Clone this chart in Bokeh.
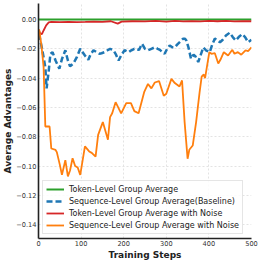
from bokeh.plotting import figure
from bokeh.models import Range1d, FixedTicker, CustomJSTickFormatter, Legend, LegendItem
from bokeh.embed import file_html
from bokeh.resources import INLINE

# ---- data ----
green_x = [0, 500]
green_y = [0.0, 0.0]

blue_x = [0, 2, 9, 16, 19, 24, 28, 33, 40, 49, 55, 63, 69, 74, 82, 90, 98, 109, 117, 122, 129, 135,
          143, 148, 155, 162, 168, 176, 182, 188, 195, 202, 212, 218, 225, 236, 243, 250, 257, 265,
          273, 280, 285, 290, 296, 302, 308, 314, 320, 326, 333, 339, 344, 347, 352, 358, 364, 368,
          375, 381, 387, 393, 402, 408, 414, 420, 426, 432, 440, 449, 456, 463, 470, 478, 485, 492, 500]
blue_y = [-0.012, -0.011, -0.021, -0.0325, -0.047, -0.035, -0.0234, -0.0223, -0.028, -0.0336, -0.027,
          -0.021, -0.028, -0.032, -0.030, -0.0257, -0.020, -0.0246, -0.0275, -0.024, -0.021, -0.022,
          -0.0234, -0.023, -0.0223, -0.021, -0.020, -0.021, -0.024, -0.028, -0.024, -0.021, -0.0223,
          -0.021, -0.020, -0.0207, -0.0166, -0.020, -0.021, -0.020, -0.019, -0.020, -0.0207, -0.022,
          -0.0234, -0.020, -0.0177, -0.019, -0.019, -0.017, -0.015, -0.0132, -0.0132, -0.0143, -0.019,
          -0.0268, -0.024, -0.025, -0.029, -0.024, -0.019, -0.021, -0.0223, -0.017, -0.013, -0.0145,
          -0.0155, -0.014, -0.011, -0.009, -0.012, -0.0143, -0.012, -0.010, -0.012, -0.0155, -0.0139]

red_x = [0, 4, 8, 12, 18, 24, 30, 50, 70, 90, 110, 130, 150, 170, 186, 195, 220, 250, 275, 300,
         320, 340, 360, 380, 400, 420, 440, 460, 480, 500]
red_y = [-0.007, -0.0095, -0.010, -0.0075, -0.004, -0.002, -0.0017, -0.0018, -0.0016, -0.0018,
         -0.0017, -0.0014, -0.0016, -0.0012, -0.0028, -0.0015, -0.0012, -0.0013, -0.0010, -0.0014,
         -0.0010, -0.0013, -0.0011, -0.0013, -0.0010, -0.0012, -0.0010, -0.0013, -0.0011, -0.0012]

orange_x = [0, 2, 7, 12, 16, 22, 26, 30, 40, 43, 50, 55, 63, 69, 74, 80, 86, 92, 98, 109, 119, 125,
            134, 140, 151, 163, 168, 173, 181, 194, 206, 217, 225, 235, 248, 257, 265, 273, 283, 294,
            300, 312, 320, 331, 337, 343, 350, 354, 362, 370, 374, 378, 383, 388, 391, 401, 406, 414,
            422, 427, 435, 445, 455, 460, 468, 476, 486, 492, 500]
orange_y = [-0.007, -0.0075, -0.018, -0.0325, -0.073, -0.073, -0.073, -0.088, -0.089, -0.0905,
            -0.099, -0.106, -0.096, -0.107, -0.103, -0.0946, -0.100, -0.101, -0.106, -0.0866, -0.090,
            -0.091, -0.0935, -0.0787, -0.070, -0.082, -0.0666, -0.064, -0.0564, -0.064, -0.057, -0.057,
            -0.0625, -0.064, -0.0496, -0.044, -0.047, -0.043, -0.042, -0.052, -0.0507, -0.0405, -0.0434,
            -0.0457, -0.0416, -0.070, -0.095, -0.0889, -0.086, -0.070, -0.060, -0.050, -0.039, -0.0375,
            -0.040, -0.0223, -0.0234, -0.023, -0.030, -0.0275, -0.0223, -0.0246, -0.0207, -0.0234,
            -0.0223, -0.024, -0.021, -0.0216, -0.019]

x_ticks = [0, 100, 200, 300, 400, 500]
y_ticks = [0.0, -0.02, -0.04, -0.06, -0.08, -0.10, -0.12, -0.14]

labels = ["Token-Level Group Average",
          "Sequence-Level Group Average(Baseline)",
          "Token-Level Group Average with Noise",
          "Sequence-Level Group Average with Noise"]

FONT = "DejaVu Sans"

p = figure(width=262, height=262, output_backend="svg", toolbar_location=None,
           x_range=Range1d(0, 500), y_range=Range1d(-0.1494, 0.0109),
           min_border_top=3, min_border_right=11, min_border_left=36, min_border_bottom=24)
p.outline_line_color = None
p.background_fill_color = "white"

# grid
for g in (p.xgrid, p.ygrid):
    g.grid_line_color = "#e3e3e3"
    g.grid_line_dash = "2 2"
    g.grid_line_width = 1
p.xgrid.ticker = FixedTicker(ticks=x_ticks)
p.ygrid.ticker = FixedTicker(ticks=y_ticks)

# axes
p.xaxis.ticker = FixedTicker(ticks=x_ticks)
p.yaxis.ticker = FixedTicker(ticks=y_ticks)
p.yaxis.formatter = CustomJSTickFormatter(
    code="return (tick < -1e-9 ? '\u2212' : '') + Math.abs(tick).toFixed(2);")
for ax in (p.xaxis, p.yaxis):
    ax.axis_line_color = "#222222"
    ax.axis_line_width = 1.6
    ax.major_tick_line_color = "#222222"
    ax.major_tick_in = 0
    ax.major_tick_out = 0
    ax.minor_tick_line_color = None
    ax.major_label_text_font = FONT
    ax.major_label_text_font_size = "6.6px"
    ax.major_label_text_color = "#333333"
    ax.major_label_standoff = 2
    ax.axis_label_text_font = FONT
    ax.axis_label_text_font_size = "9px"
    ax.axis_label_text_font_style = "bold"
    ax.axis_label_text_color = "#222222"
    ax.axis_label_standoff = 1
p.xaxis.axis_label = "Training Steps"
p.yaxis.axis_label = "Average Advantages"
p.yaxis.axis_label_standoff = 0

# lines
r_green = p.line(green_x, green_y, line_color="#2ca02c", line_width=2)
r_blue = p.line(blue_x, blue_y, line_color="#1f77b4", line_width=2.5, line_dash="6 3")
r_red = p.line(red_x, red_y, line_color="#d62728", line_width=1.8)
r_orange = p.line(orange_x, orange_y, line_color="#ff7f0e", line_width=1.8)

legend = Legend(items=[LegendItem(label=labels[0], renderers=[r_green]),
                       LegendItem(label=labels[1], renderers=[r_blue]),
                       LegendItem(label=labels[2], renderers=[r_red]),
                       LegendItem(label=labels[3], renderers=[r_orange])],
                location="bottom_left")
legend.margin = 4
legend.padding = 3
legend.spacing = 2
legend.glyph_width = 18
legend.glyph_height = 10
legend.label_height = 10
legend.label_standoff = 5
legend.label_text_font = FONT
legend.label_text_font_size = "8px"
legend.label_text_color = "#222222"
legend.border_line_color = "#cccccc"
legend.border_line_width = 1
legend.background_fill_alpha = 0.85
p.add_layout(legend)

open("out.html", "w").write(file_html(p, INLINE))
